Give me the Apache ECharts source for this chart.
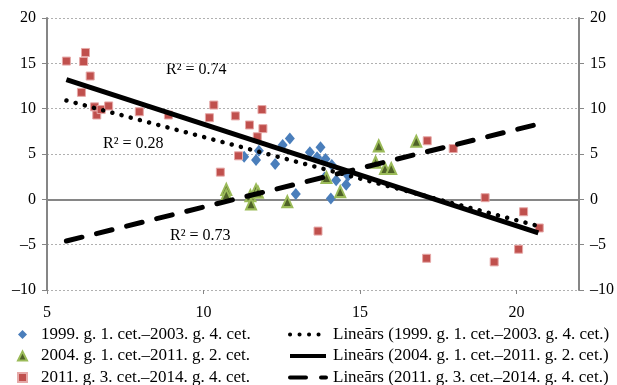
<!DOCTYPE html>
<html>
<head>
<meta charset="utf-8">
<script src="https://cdn.jsdelivr.net/npm/echarts@6/dist/echarts.min.js"></script>
<style>
  html, body { margin: 0; padding: 0; background: #fff; }
  #chart { width: 617px; height: 385px; }
</style>
</head>
<body>
<div id="chart"></div>
<script>
// series names
const names = [
  '1999. g. 1. cet.–2003. g. 4. cet.',
  '2004. g. 1. cet.–2011. g. 2. cet.',
  '2011. g. 3. cet.–2014. g. 4. cet.',
]
const trendNames = names.map((n) => 'Lineārs (' + n + ')')

// scatter points [x, y]
const diamonds = [
  [11.3, 4.7], [11.68, 4.35], [11.77, 5.35], [12.29, 3.9], [12.53, 6.0],
  [12.76, 6.7], [12.95, 0.6], [13.4, 5.2], [13.74, 5.75], [13.63, 4.65],
  [13.9, 4.45], [14.1, 3.8], [13.87, 2.4], [14.24, 2.1], [14.56, 1.6],
  [14.62, 2.6], [14.07, 0.1],
]
const triangles = [
  [10.73, 1.1], [10.73, 0.5], [11.5, 0.4], [11.52, -0.5], [11.68, 1.05],
  [11.74, 0.8], [12.68, -0.25], [13.93, 2.4], [14.37, 0.85], [15.5, 4.1],
  [15.6, 5.9], [15.8, 3.4], [16.0, 3.4], [16.8, 6.4],
]
const squares = [
  [5.62, 15.25], [6.23, 16.2], [6.17, 15.2], [6.38, 13.6], [6.1, 11.8],
  [6.52, 10.2], [6.59, 9.3], [6.73, 9.9], [6.97, 10.3], [7.95, 9.66],
  [8.88, 9.3], [10.33, 10.4], [10.19, 9.0], [11.02, 9.2], [11.87, 9.9],
  [11.47, 8.2], [11.9, 7.8], [11.72, 6.9], [11.12, 4.8], [10.54, 3.0],
  [13.66, -3.5], [17.15, 6.46], [17.98, 5.6], [19.0, 0.18], [20.23, -1.37],
  [20.73, -3.16], [17.13, -6.5], [19.29, -6.9], [20.07, -5.5],
]

// trend line end points [x, y]
const trendDotted = [[5.62, 10.9], [20.65, -2.9]]
const trendSolid = [[5.62, 13.2], [20.7, -3.7]]
const trendDashed = [[5.62, -4.6], [20.7, 8.3]]

// R² labels
const r2Labels = ['R² = 0.74', 'R² = 0.28', 'R² = 0.73']

const font = 'Liberation Serif'
const gray = '#868686'

const yAxisBase = {
  type: 'value',
  min: -10,
  max: 20,
  interval: 5,
  axisLine: { show: true, lineStyle: { color: gray, width: 2 } },
  axisTick: { show: true, length: 5, lineStyle: { color: gray, width: 1 } },
  axisLabel: {
    color: '#000',
    fontFamily: font,
    fontSize: 16,
    margin: 11,
    formatter: (v) => String(v).replace('-', '–'),
  },
}

const legendBase = {
  orient: 'vertical',
  top: 321,
  height: 70,
  itemGap: 4.5,
  itemHeight: 9,
}

const chart = echarts.init(document.getElementById('chart'))
chart.setOption({
  animation: false,
  grid: { left: 47, right: 36, top: 18, bottom: 95 },
  xAxis: {
    type: 'value',
    min: 5,
    max: 22,
    interval: 5,
    axisLine: { show: false, onZero: false },
    axisTick: { show: true, length: 4, lineStyle: { color: gray } },
    splitLine: { show: false },
    axisLabel: {
      color: '#000',
      fontFamily: font,
      fontSize: 16,
      margin: 15,
      showMaxLabel: false,
    },
  },
  yAxis: [
    Object.assign({}, yAxisBase, {
      position: 'left',
      splitLine: { show: true, lineStyle: { color: '#b0b0b0', type: [2, 2], width: 1 } },
    }),
    Object.assign({}, yAxisBase, { position: 'right', splitLine: { show: false } }),
  ],
  legend: [
    Object.assign({}, legendBase, {
      left: 12,
      itemWidth: 9,
      textStyle: { fontFamily: font, fontSize: 17, color: '#000', padding: [0, 0, 0, 9] },
      data: names,
    }),
    Object.assign({}, legendBase, {
      left: 283,
      itemWidth: 36,
      itemStyle: { opacity: 0 },
      lineStyle: { width: 4 },
      textStyle: { fontFamily: font, fontSize: 17, color: '#000', padding: [0, 0, 0, 2] },
      data: trendNames,
    }),
  ],
  graphic: [
    { type: 'text', left: 166, top: 62, style: { text: r2Labels[0], font: '16px ' + font, fill: '#000' } },
    { type: 'text', left: 103, top: 136, style: { text: r2Labels[1], font: '16px ' + font, fill: '#000' } },
    { type: 'text', left: 170, top: 228, style: { text: r2Labels[2], font: '16px ' + font, fill: '#000' } },
  ],
  series: [
    {
      name: trendNames[0],
      type: 'line',
      data: trendDotted,
      symbol: 'none',
      z: 3,
      lineStyle: { color: '#000', width: 4.5, type: [0.1, 9.4], cap: 'round' },
      markLine: {
        silent: true,
        symbol: 'none',
        label: { show: false },
        lineStyle: { color: gray, width: 2, type: 'solid' },
        data: [{ yAxis: 0 }],
        z: 1,
      },
    },
    {
      name: trendNames[1],
      type: 'line',
      data: trendSolid,
      symbol: 'none',
      z: 3,
      lineStyle: { color: '#000', width: 5 },
    },
    {
      name: trendNames[2],
      type: 'line',
      data: trendDashed,
      symbol: 'none',
      z: 3,
      lineStyle: { color: '#000', width: 5, type: [16, 15], cap: 'round' },
    },
    {
      name: names[0],
      type: 'scatter',
      data: diamonds,
      symbol: 'diamond',
      symbolSize: [10, 12],
      z: 2,
      itemStyle: { color: '#4A7EBB', opacity: 1 },
    },
    {
      name: names[1],
      type: 'scatter',
      data: triangles,
      symbol: 'triangle',
      symbolSize: [10, 11],
      z: 2,
      itemStyle: { color: '#4F6228', borderColor: '#9BBB59', borderWidth: 2, opacity: 1 },
    },
    {
      name: names[2],
      type: 'scatter',
      data: squares,
      symbol: 'rect',
      symbolSize: 8,
      z: 2,
      itemStyle: { color: '#C0504D', borderColor: '#E6A9A8', borderWidth: 1, opacity: 1 },
    },
  ],
})
</script>
</body>
</html>
